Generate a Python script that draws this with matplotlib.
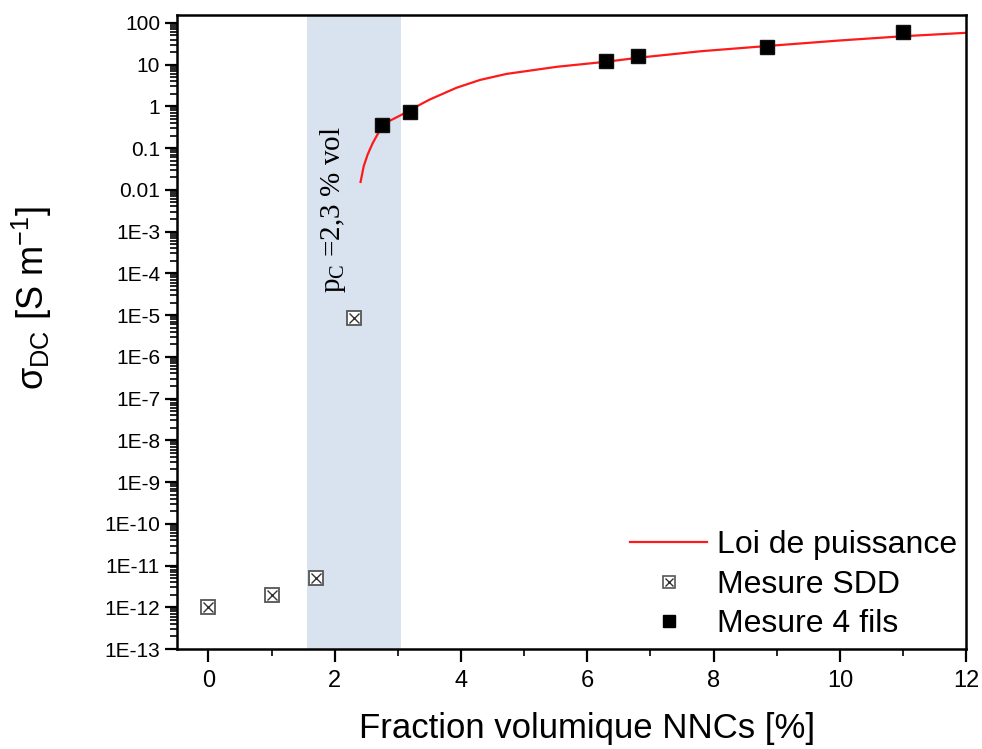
import matplotlib
matplotlib.use("Agg")
import matplotlib.pyplot as plt
from matplotlib.ticker import FixedLocator, NullFormatter
from matplotlib.lines import Line2D
from matplotlib.legend_handler import HandlerTuple

plt.rcParams['font.family'] = ['Liberation Sans', 'DejaVu Sans']
plt.rcParams['mathtext.fontset'] = 'custom'
plt.rcParams['mathtext.rm'] = 'Liberation Sans'
plt.rcParams['mathtext.it'] = 'Liberation Sans:italic'

# Data
sdd_x = [0.0, 1.0, 1.7, 2.3]
sdd_y = [1.0e-12, 2.0e-12, 5.0e-12, 8.5e-6]

fils_x = [2.75, 3.2, 6.3, 6.8, 8.85, 11.0]
fils_y = [0.36, 0.74, 12.0, 16.0, 27.0, 60.0]

fit_x = [2.41, 2.46, 2.52, 2.60, 2.71, 2.87, 3.05, 3.20, 3.50, 3.93, 4.30, 4.72, 5.52, 6.31, 6.80, 7.80, 8.85, 10.0, 11.0, 12.0]
fit_y = [0.0155, 0.037, 0.069, 0.13, 0.26, 0.45, 0.62, 0.83, 1.45, 2.8, 4.3, 6.0, 8.9, 11.8, 14.6, 21.0, 28.0, 38.0, 48.0, 58.0]

pc_band = [1.56, 3.05]

ytick_vals = [1e2, 1e1, 1e0, 1e-1, 1e-2, 1e-3, 1e-4, 1e-5, 1e-6, 1e-7, 1e-8,
              1e-9, 1e-10, 1e-11, 1e-12, 1e-13]
ytick_labels = ['100', '10', '1', '0.1', '0.01', '1E-3', '1E-4', '1E-5', '1E-6',
                '1E-7', '1E-8', '1E-9', '1E-10', '1E-11', '1E-12', '1E-13']
xtick_vals = [0, 2, 4, 6, 8, 10, 12]

fig = plt.figure(figsize=(9.82, 7.49), dpi=100)
ax = fig.add_axes([0.180, 0.1335, 0.804, 0.8465])

ax.axvspan(pc_band[0], pc_band[1], color='#d9e3f0', zorder=0, lw=0)

line_fit, = ax.plot(fit_x, fit_y, color='#ff1a1a', lw=1.6, zorder=2)

ax.plot(sdd_x, sdd_y, ls='none', marker='s', ms=10, mfc='white', mec='#555555', mew=1.3, zorder=3)
ax.plot(sdd_x, sdd_y, ls='none', marker='x', ms=7, mec='#333333', mew=1.0, zorder=4)

ax.plot(fils_x, fils_y, ls='none', marker='s', ms=10, mfc='black', mec='#111111', zorder=5)

ax.set_yscale('log')
ax.set_xlim(-0.5, 12)
ax.set_ylim(1e-13, 1.55e2)

ax.set_yticks(ytick_vals)
ax.set_yticklabels(ytick_labels)
minors = []
for e in range(-13, 2):
    for m in range(2, 10):
        minors.append(m * 10.0 ** e)
ax.yaxis.set_minor_locator(FixedLocator(minors))
ax.yaxis.set_minor_formatter(NullFormatter())

ax.set_xticks(xtick_vals)
ax.set_xticklabels([str(v) for v in xtick_vals])
ax.xaxis.set_minor_locator(FixedLocator([1, 3, 5, 7, 9, 11]))

ax.tick_params(axis='both', which='major', direction='out', length=9, width=1.6, top=False, right=False)
ax.tick_params(axis='both', which='minor', direction='out', length=5, width=1.2, top=False, right=False)
ax.tick_params(axis='y', which='major', labelsize=15, pad=3)
ax.tick_params(axis='x', which='major', labelsize=17, pad=6)

for s in ax.spines.values():
    s.set_linewidth(1.8)

ax.set_xlabel('Fraction volumique NNCs [%]', fontsize=25)
ax.xaxis.set_label_coords(0.52, -0.1)
ax.set_ylabel(r'σ$_{\mathrm{DC}}$ [S m$^{\mathrm{-1}}$]', fontsize=26)
ax.yaxis.set_label_coords(-0.156, 0.554)

ax.text(1.97, 3.3e-3, r'p$\mathregular{_C}$ =2,3 % vol', rotation=90, ha='center', va='center',
        family=['Liberation Serif', 'DejaVu Serif'], fontsize=21, zorder=6)

h_sdd = (Line2D([], [], ls='none', marker='s', ms=9, mfc='white', mec='#555555', mew=1.2),
         Line2D([], [], ls='none', marker='x', ms=6, mec='#333333', mew=1.0))
h_fils = Line2D([], [], ls='none', marker='s', ms=9, mfc='black', mec='black')
leg = ax.legend([line_fit, h_sdd, h_fils], ['Loi de puissance', 'Mesure SDD', 'Mesure 4 fils'],
                handler_map={tuple: HandlerTuple(ndivide=1)},
                loc='lower right', bbox_to_anchor=(1.0, 0.0), frameon=False, fontsize=23,
                handlelength=2.4, handletextpad=0.3, labelspacing=0.3, borderpad=0.2,
                borderaxespad=0.1)

fig.savefig('out.png', dpi=100)
